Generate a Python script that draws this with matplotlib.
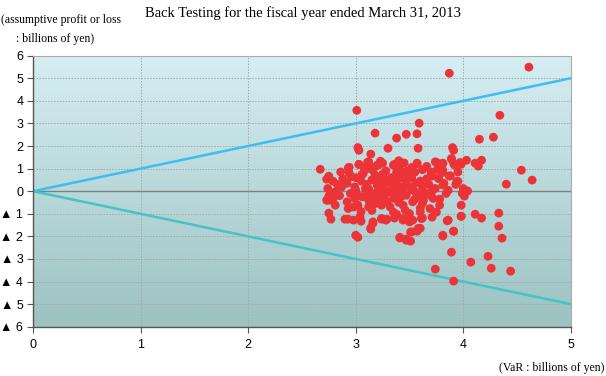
import numpy as np
import matplotlib.pyplot as plt

# VaR (x) vs assumptive profit/loss (y), billions of yen
var_x = [
    3.87, 4.61, 3.01, 4.34, 3.59, 3.18, 3.38, 3.47, 3.57, 4.15, 4.28, 3.30, 3.58, 3.02, 3.03,
    3.90, 3.91, 3.14, 2.94, 3.03, 2.67, 4.54, 4.64, 4.40, 4.17, 4.11, 4.14, 4.03, 3.98, 3.92,
    3.89, 3.81, 3.75, 3.76, 3.57, 3.36, 3.23, 3.20, 3.11, 3.09, 3.16, 2.75, 2.73, 2.94, 3.06,
    3.41, 3.45, 3.55, 3.71, 3.81, 3.87, 3.94, 3.82, 3.77, 3.65, 3.71, 3.99, 4.04, 4.01,
    4.17, 4.11, 3.98, 4.33, 4.33, 4.36, 4.23, 4.07, 4.26, 4.44, 3.74, 3.91, 3.89, 3.81, 3.91,
    3.86, 3.75, 3.71, 3.62, 3.41, 3.47, 3.51, 3.51, 3.57, 3.60, 3.44, 3.49, 3.53, 3.35, 3.38,
    3.24, 3.28, 3.36, 3.14, 3.16, 3.00, 3.02, 2.90, 2.93, 2.98, 2.75, 2.77, 2.74, 2.75, 2.77,
    2.93, 3.03, 3.12, 3.13, 3.21, 3.25, 2.75, 2.79, 2.83, 2.96, 3.07, 3.18, 3.26, 3.32, 2.74,
    2.81, 2.87, 2.99, 3.09, 3.24, 3.02, 3.15, 3.27,
    3.35, 3.57, 3.74, 3.81, 3.89, 3.91, 3.97, 3.78, 3.81, 3.38, 3.44, 3.71, 3.77, 3.88, 3.95,
    3.81, 3.86, 3.74, 4.00, 3.35, 3.41, 3.47, 3.53, 3.38, 3.47, 3.58, 3.63,
    2.73, 2.79, 2.92, 2.99, 3.12, 3.19, 3.24, 3.29, 2.81, 2.93, 3.02, 3.12, 3.04, 3.05, 3.16,
    3.14, 3.24, 3.29,
    3.35, 3.44, 3.53, 3.63, 3.72, 3.78, 3.69, 3.60, 3.46, 3.50, 3.44, 3.50, 3.61, 3.58, 3.52,
    3.41, 3.47, 3.85, 3.98, 3.81, 3.91, 3.98,
    3.05, 3.10, 3.15, 3.20, 3.28, 3.33, 3.40, 3.46, 3.52, 3.56, 3.60, 3.62, 3.66, 3.50, 3.44,
    3.30, 3.20, 3.10, 3.00, 2.92, 2.88, 2.85, 2.95, 3.06, 3.35, 3.25, 3.55, 3.62, 3.68, 3.70,
    3.40, 3.32, 3.15, 3.05, 2.98, 3.48, 3.52, 3.40, 3.28, 3.62, 3.66, 3.45, 3.15, 3.00, 2.86,
    3.56, 3.25, 3.08, 3.38, 3.60, 3.78, 3.84, 3.93, 3.95, 3.70, 3.42, 3.18, 3.12, 3.22, 3.34,
]
pnl_y = [
    5.22, 5.49, 3.58, 3.36, 3.01, 2.57, 2.35, 2.52, 2.54, 2.30, 2.39, 1.90, 1.90, 1.93, 1.81,
    1.93, 1.81, 1.64, 1.06, 1.19, 0.97, 0.93, 0.49, 0.31, 1.37, 1.24, 1.11, 1.37, 1.19, 1.15,
    1.42, 1.24, 1.28, 0.97, 1.24, 1.19, 1.33, 1.15, 1.28, 1.02, 0.93, 0.66, 0.53, 0.80, 0.75,
    0.97, 0.80, 0.84, 0.67, 0.93, 0.67, 0.44, 0.35, 0.58, -0.09, 0.01, -0.09, 0.01, -0.22,
    -1.19, -1.02, -1.11, -0.97, -1.55, -2.08, -2.88, -3.14, -3.41, -3.54, -3.45, -3.98, -2.70, -1.95, -1.77,
    -1.28, -0.93, -1.15, -1.19, -2.04, -2.12, -2.21, -1.81, -1.77, -1.64, -1.28, -1.19, -1.28, -0.93, -1.02,
    -1.24, -1.28, -1.19, -1.68, -1.42, -1.95, -2.04, -1.24, -1.24, -1.28, -0.97, -1.24, -0.40, -0.22, -0.40,
    1.03, 1.18, 1.30, 1.00, 1.15, 1.24, 0.63, 0.44, 0.30, 0.63, 0.78, 0.71, 0.56, 0.41, 0.12,
    -0.03, 0.19, 0.19, 0.12, 0.12, -0.18, -0.10, -0.18,
    1.15, 1.22, 1.30, 1.22, 1.45, 1.22, 1.27, 0.93, 0.83, 0.85, 0.71, 0.68, 0.56, 0.68, 0.44,
    0.27, 0.04, 0.12, 0.12, 0.41, 0.19, 0.34, 0.04, -0.10, -0.18, -0.18, -0.03,
    -0.40, -0.32, -0.47, -0.32, -0.40, -0.32, -0.62, -0.47, -0.62, -0.77, -0.62, -0.69, -1.14, -1.33, -1.36,
    -1.62, -1.21, -1.24,
    -0.32, -0.62, -0.47, -0.40, -0.32, -0.62, -0.77, -0.92, -0.84, -0.99, -1.21, -1.36, -1.21, -1.65, -1.80,
    -2.07, -2.17, -1.31, -1.11, -1.98, -1.77, -0.62,
    0.45, 0.30, 0.50, 0.25, 0.35, 0.60, 0.55, 0.50, 0.60, 0.35, 0.45, 0.20, 0.55, 0.20, 0.05,
    0.00, -0.05, -0.10, 0.05, 0.35, 0.55, -0.20, -0.10, -0.25, 0.15, -0.30, -0.35, -0.55, 0.30, -0.20,
    -0.50, -0.70, -0.85, -0.90, -0.70, 0.90, 1.05, 1.35, 0.90, 0.95, 1.10, 1.25, 1.05, 0.60, 0.85,
    -0.05, 0.75, 0.95, 0.30, -0.75, -0.35, -0.10, 0.30, 0.85, 0.85, -0.25, -0.55, 0.10, 0.45, -0.08,
]

x_ticks = [0, 1, 2, 3, 4, 5]
y_ticks = list(range(-6, 7))
y_tick_labels = ['▲ %d' % -v if v < 0 else str(v) for v in y_ticks]

title = 'Back Testing for the fiscal year ended March 31, 2013'
y_note = '(assumptive profit or loss\n     : billions of yen)'
x_note = '(VaR : billions of yen)'

fig = plt.figure(figsize=(6.06, 3.76), dpi=100)
ax = fig.add_axes([0.0545, 0.131, 0.8875, 0.721])
ax.set_xlim(0, 5)
ax.set_ylim(-6, 6)

# vertical background gradient
top = np.array([214, 238, 243]) / 255
bot = np.array([156, 194, 194]) / 255
t = np.linspace(0, 1, 256)[:, None]
grad = (top * (1 - t) + bot * t).reshape(256, 1, 3)
ax.imshow(grad, extent=[0, 5, -6, 6], aspect='auto', zorder=0)

for v in y_ticks:
    if v == 0:
        ax.axhline(v, color='#808080', lw=1.0, zorder=1)
    else:
        ax.axhline(v, color='#a0a8aa', lw=0.7, ls=(0, (1.5, 1.5)), zorder=1)
for v in x_ticks[1:-1]:
    ax.axvline(v, color='#a0a8aa', lw=0.7, ls=(0, (1.5, 1.5)), zorder=1)

ax.plot([0, 5], [0, 5], color='#3dbdf0', lw=1.8, zorder=2)
ax.plot([0, 5], [0, -5], color='#45c3c6', lw=1.8, zorder=2)

ax.scatter(var_x, pnl_y, s=40, color='#ec3338', edgecolors='none', zorder=3)

ax.set_xticks(x_ticks)
ax.set_yticks(y_ticks)
ax.set_yticklabels(y_tick_labels)
tick_font = ['Liberation Sans Narrow', 'Liberation Sans', 'DejaVu Sans']
for lab in ax.get_xticklabels() + ax.get_yticklabels():
    lab.set_family(tick_font)
    lab.set_fontsize(9)
ax.tick_params(axis='both', length=4, width=0.8, color='#555555', pad=3)
ax.tick_params(axis='x', pad=5)
for side in ['left', 'bottom']:
    ax.spines[side].set_color('#555555')
    ax.spines[side].set_linewidth(1.0)
for side in ['top', 'right']:
    ax.spines[side].set_color('#aaaaaa')
    ax.spines[side].set_linewidth(0.8)

serif = 'Liberation Serif'
fig.text(0.5, 0.965, title, ha='center', va='center', family=serif, fontsize=10.5)
fig.text(0.002, 0.962, y_note, ha='left', va='top', family=serif, fontsize=8.5, linespacing=1.75)
fig.text(0.998, 0.005, x_note, ha='right', va='bottom', family=serif, fontsize=8.5)

fig.savefig('out.png', dpi=100)
